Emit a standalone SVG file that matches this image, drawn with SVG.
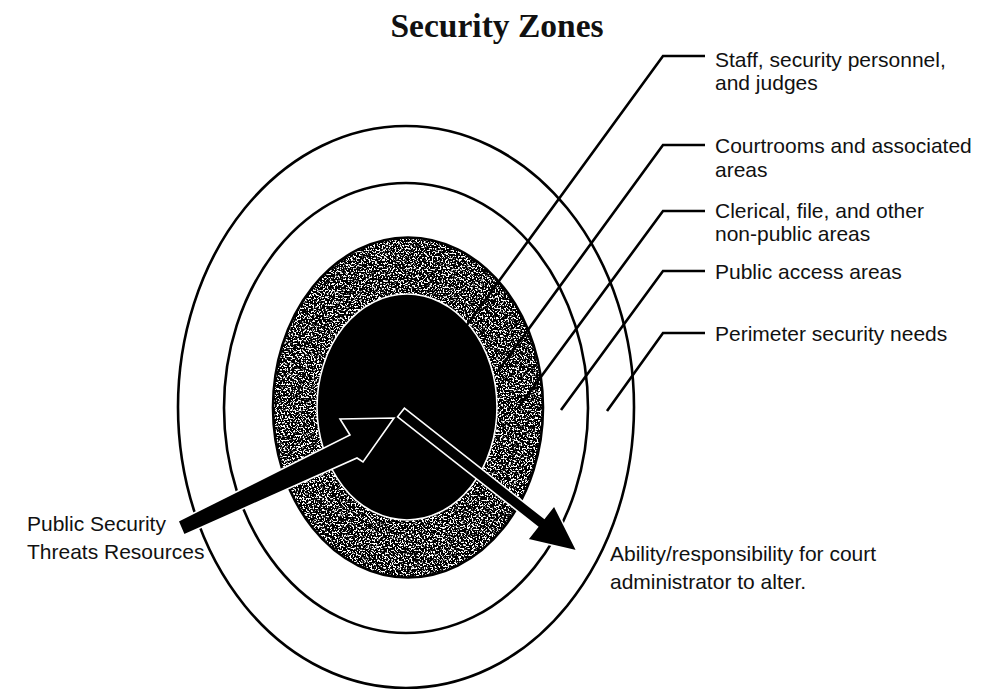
<svg xmlns="http://www.w3.org/2000/svg" width="990" height="689" viewBox="0 0 990 689">
  <style>
    .ring { fill: none; stroke: #000; stroke-width: 2.6; }
    .lbl { font-family: "Liberation Sans", Arial, sans-serif; font-size: 21px; fill: #111; }
    .title { font-family: "Liberation Serif", "Times New Roman", serif; font-size: 33.5px; font-weight: bold; fill: #111; }
    .leader { fill: none; stroke: #000; stroke-width: 2.6; stroke-linejoin: miter; }
    .arrow { fill: #000; stroke: #fff; stroke-width: 1.6; stroke-linejoin: miter; }
  </style>
  <defs>
    <!-- stippled grain used for the middle band -->
    <filter id="grain" x="0" y="0" width="100%" height="100%" color-interpolation-filters="sRGB">
      <feTurbulence type="fractalNoise" baseFrequency="0.62" numOctaves="2" seed="7" result="noise"/>
      <feColorMatrix in="noise" type="matrix" values="0 0 0 0 0  0 0 0 0 0  0 0 0 0 0  1 0 0 0 0" result="mask"/>
      <feComponentTransfer in="mask" result="dots">
        <feFuncA type="linear" slope="12" intercept="-4.8"/>
      </feComponentTransfer>
      <feComposite in="dots" in2="SourceGraphic" operator="in"/>
    </filter>
  </defs>

  <rect width="990" height="689" fill="#fff"/>

  <g id="title">
    <text class="title" x="497" y="37" text-anchor="middle">Security Zones</text>
  </g>

  <!-- concentric zones, outermost first -->
  <g id="zone-perimeter">
    <ellipse class="ring" cx="406" cy="407" rx="228" ry="281"/>
  </g>
  <g id="zone-public">
    <ellipse class="ring" cx="406" cy="408" rx="182" ry="225"/>
  </g>
  <g id="zone-clerical">
    <ellipse cx="408" cy="407.5" rx="135" ry="170" fill="#fff"/>
    <ellipse cx="408" cy="407.5" rx="135" ry="170" fill="#000" filter="url(#grain)"/>
    <ellipse class="ring" cx="408" cy="407.5" rx="135" ry="170"/>
  </g>
  <g id="zone-courtrooms">
    <ellipse cx="407" cy="407" rx="90" ry="113" fill="#000" stroke="#fff" stroke-width="1.6"/>
  </g>

  <!-- leader lines and flow arrows -->
  <g id="connectors">
    <polyline class="leader" points="456,340 663,56 705,56"/>
    <polyline class="leader" points="498,371 663,145 705,145"/>
    <polyline class="leader" points="518,408 663,211 705,211"/>
    <polyline class="leader" points="561,410 663,271 705,271"/>
    <polyline class="leader" points="607,411 663,333 705,333"/>

    <polygon id="arrow-in" class="arrow" points="178,521 350,435 340,419 394,418 363,462 357,458 184,535"/>
    <polygon id="arrow-out" class="arrow" points="404.4,408.2 544.3,518.2 554.2,505.5 577,551 527.6,539.5 537.5,526.8 397.6,416.8"/>
  </g>

  <!-- zone labels -->
  <g id="label-staff">
    <text class="lbl" x="715" y="67">Staff, security personnel,</text>
    <text class="lbl" x="715" y="90">and judges</text>
  </g>
  <g id="label-courtrooms">
    <text class="lbl" x="715" y="153">Courtrooms and associated</text>
    <text class="lbl" x="715" y="177">areas</text>
  </g>
  <g id="label-clerical">
    <text class="lbl" x="715" y="218">Clerical, file, and other</text>
    <text class="lbl" x="715" y="241">non-public areas</text>
  </g>
  <g id="label-public">
    <text class="lbl" x="715" y="279">Public access areas</text>
  </g>
  <g id="label-perimeter">
    <text class="lbl" x="715" y="341">Perimeter security needs</text>
  </g>
  <g id="label-threats">
    <text class="lbl" x="27" y="531">Public Security</text>
    <text class="lbl" x="27" y="559">Threats Resources</text>
  </g>
  <g id="label-ability">
    <text class="lbl" x="610" y="561">Ability/responsibility for court</text>
    <text class="lbl" x="610" y="589">administrator to alter.</text>
  </g>
</svg>
